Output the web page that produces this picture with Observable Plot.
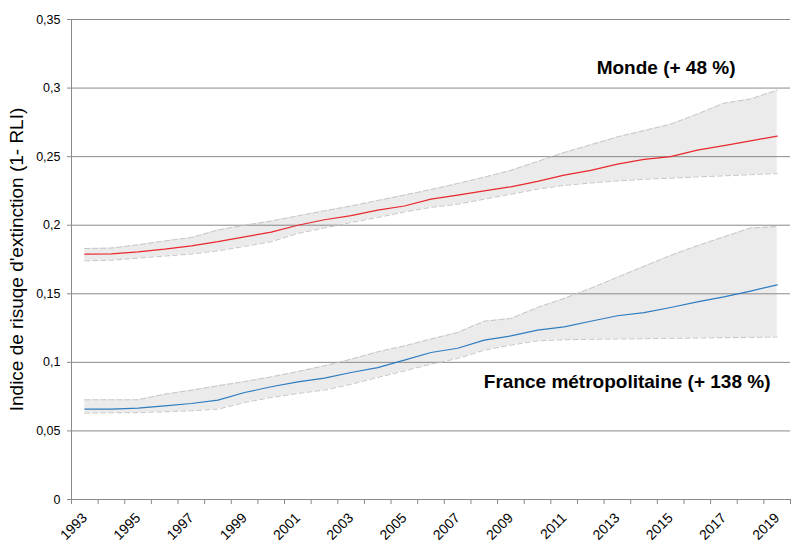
<!DOCTYPE html>
<html><head><meta charset="utf-8">
<script src="https://cdn.jsdelivr.net/npm/d3@7"></script>
<script src="https://cdn.jsdelivr.net/npm/@observablehq/plot@0.6"></script>
<style>body{margin:0;background:#fff;}</style>
</head><body><div id="chart"></div>
<script>
const years = [1993,1994,1995,1996,1997,1998,1999,2000,2001,2002,2003,2004,2005,2006,2007,2008,2009,2010,2011,2012,2013,2014,2015,2016,2017,2018,2019];

const mondeMean = [0.1789,0.1791,0.1805,0.1825,0.185,0.188,0.1915,0.195,0.2,0.204,0.207,0.211,0.214,0.219,0.222,0.225,0.228,0.232,0.2365,0.24,0.2445,0.248,0.25,0.2547,0.258,0.2615,0.265];
const mondeHigh = [0.183,0.1833,0.1857,0.1885,0.191,0.1965,0.2,0.203,0.2068,0.2105,0.214,0.218,0.222,0.226,0.2304,0.235,0.24,0.2465,0.253,0.2587,0.2644,0.269,0.2737,0.281,0.289,0.292,0.2985];
const mondeLow  = [0.174,0.1745,0.176,0.1775,0.179,0.1813,0.1845,0.188,0.194,0.198,0.202,0.2056,0.2097,0.213,0.2153,0.219,0.2226,0.2263,0.229,0.2308,0.2323,0.2335,0.2343,0.2352,0.236,0.2368,0.2377];

const franceMean = [0.0659,0.0659,0.0666,0.0683,0.07,0.0725,0.078,0.0822,0.0858,0.0885,0.0926,0.0962,0.1016,0.1072,0.1103,0.1162,0.1193,0.1235,0.1259,0.13,0.134,0.1363,0.14,0.1441,0.1478,0.152,0.1565];
const franceHigh = [0.0727,0.0727,0.0727,0.0768,0.0797,0.0829,0.086,0.0894,0.0933,0.0975,0.1023,0.1077,0.112,0.117,0.1218,0.13,0.132,0.14,0.1466,0.154,0.162,0.17,0.178,0.185,0.1915,0.198,0.199];
const franceLow  = [0.063,0.0632,0.0634,0.064,0.0647,0.0659,0.0707,0.0744,0.0773,0.0798,0.084,0.089,0.0938,0.0987,0.1028,0.1089,0.1126,0.1157,0.1165,0.1168,0.117,0.1172,0.1175,0.1177,0.118,0.1182,0.1185];

const seriesNames = ["Monde", "France métropolitaine"];
const yTicks = [0, 0.05, 0.1, 0.15, 0.2, 0.25, 0.3, 0.35];
const xLabelYears = [1993,1995,1997,1999,2001,2003,2005,2007,2009,2011,2013,2015,2017,2019];
const annotations = ["Monde (+ 48 %)", "France métropolitaine (+ 138 %)"];
const yTitle = "Indice de risuqe d'extinction (1- RLI)";

const seriesColors = {"Monde": "#e8282c", "France métropolitaine": "#2e7cc0"};

const rows = [];
const src = [[mondeMean, mondeHigh, mondeLow], [franceMean, franceHigh, franceLow]];
seriesNames.forEach((s, k) => {
  years.forEach((yr, i) => rows.push({series: s, year: yr, mean: src[k][0][i], hi: src[k][1][i], lo: src[k][2][i]}));
});
const boundaries = years.map(y => y - 0.5).concat([years[years.length - 1] + 0.5]);
const fmt = d => String(+d.toFixed(2)).replace(".", ",");

const chart = Plot.plot({
  width: 798, height: 544,
  marginLeft: 71, marginRight: 8, marginTop: 19, marginBottom: 45,
  style: {fontFamily: "'Liberation Sans', Arial, sans-serif", fontSize: "12px", background: "#fff", color: "#000", overflow: "visible"},
  x: {domain: [boundaries[0], boundaries[boundaries.length - 1]], axis: null},
  y: {domain: [yTicks[0], yTicks[yTicks.length - 1]], axis: null},
  marks: [
    Plot.areaY(rows, {x: "year", y1: "lo", y2: "hi", z: "series", fill: "#ebebeb"}),
    Plot.ruleY(yTicks, {stroke: "#8a8a8a", insetLeft: -4}),
    Plot.ruleX([boundaries[0]], {stroke: "#8a8a8a"}),
    Plot.ruleX(boundaries, {y1: 0, y2: 0, insetBottom: -5, stroke: "#8a8a8a"}),
    Plot.lineY(rows, {x: "year", y: "hi", z: "series", stroke: "#c6c6c6", strokeWidth: 1, strokeDasharray: "5,3"}),
    Plot.lineY(rows, {x: "year", y: "lo", z: "series", stroke: "#c6c6c6", strokeWidth: 1, strokeDasharray: "5,3"}),
    Plot.lineY(rows, {x: "year", y: "mean", z: "series", stroke: d => seriesColors[d.series], strokeWidth: 1.2}),
    Plot.text(yTicks, {y: d => d, text: fmt, frameAnchor: "left", textAnchor: "end", lineAnchor: "middle", dx: -11, fontSize: 12.5}),
    Plot.text(xLabelYears, {x: d => d, text: d => String(d), frameAnchor: "bottom", rotate: -45, textAnchor: "end", lineAnchor: "middle", dx: 0, dy: 16, fontSize: 14}),
    Plot.text([yTitle], {text: d => d, frameAnchor: "left", rotate: -90, textAnchor: "middle", lineAnchor: "middle", dx: -55, fontSize: 19}),
    Plot.text([annotations[0]], {text: d => d, frameAnchor: "top-right", textAnchor: "end", lineAnchor: "middle", dx: -55, dy: 48, fontSize: 19, fontWeight: "bold"}),
    Plot.text([annotations[1]], {text: d => d, frameAnchor: "top-right", textAnchor: "end", lineAnchor: "middle", dx: -20, dy: 362, fontSize: 19, fontWeight: "bold"})
  ]
});
document.getElementById("chart").appendChild(chart);
</script>
</body></html>
